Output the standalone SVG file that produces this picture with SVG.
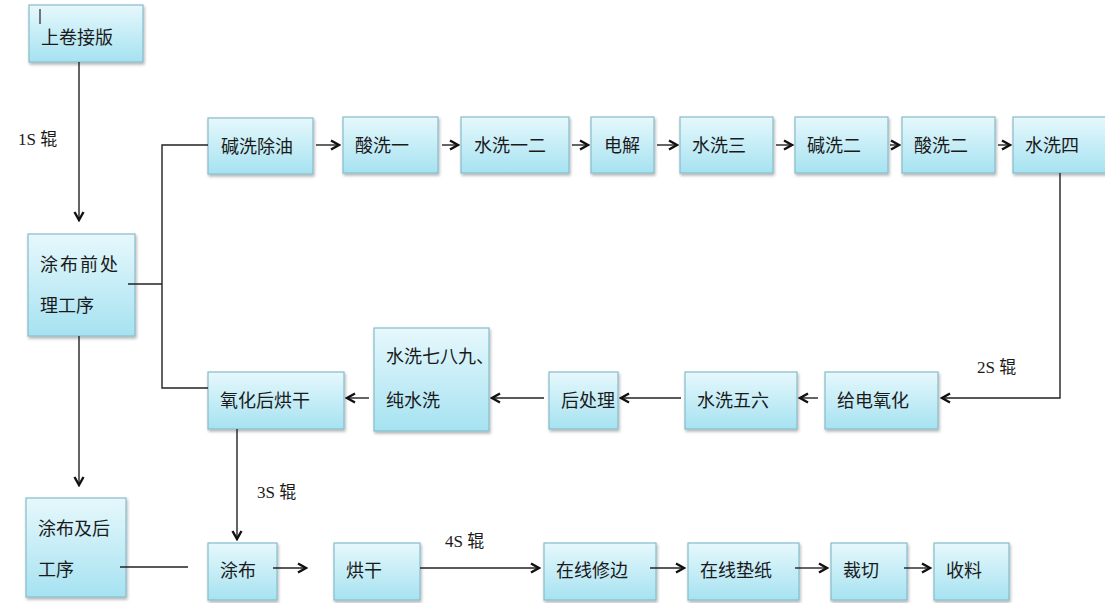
<svg xmlns="http://www.w3.org/2000/svg" width="1105" height="603" viewBox="0 0 1105 603">
<defs>
<linearGradient id="g" x1="0" y1="0" x2="0" y2="1">
<stop offset="0" stop-color="#e6f8fc"/>
<stop offset="1" stop-color="#a6e2f1"/>
</linearGradient>
<filter id="sh" x="-10%" y="-10%" width="130%" height="130%">
<feDropShadow dx="1" dy="2" stdDeviation="1.5" flood-color="#000" flood-opacity="0.3"/>
</filter>
<marker id="ar" viewBox="0 0 12 12" refX="10" refY="6" markerWidth="12" markerHeight="12" markerUnits="userSpaceOnUse" orient="auto">
<path d="M2,1.5 L10,6 L2,10.5" fill="none" stroke="#111" stroke-width="2.4"/>
</marker>
<style>
.b{fill:url(#g);stroke:#86bccb;stroke-width:1.2;filter:url(#sh)}
.t{font-family:"Noto Sans CJK SC","Liberation Sans",sans-serif;font-size:18px;fill:#1a1a1a}
.l{font-family:"Liberation Serif","Noto Sans CJK SC",serif;font-size:17px;fill:#1a1a1a}
.c{stroke:#222;stroke-width:1.4;fill:none}
.a{stroke:#222;stroke-width:1.4;fill:none;marker-end:url(#ar)}
</style>
</defs>
<rect width="1105" height="603" fill="#fff"/>
<g id="n1"><rect class="b" x="29" y="5" width="114" height="57"/><text class="t" x="41" y="44">上卷接版</text><line x1="40" y1="9" x2="40" y2="24" stroke="#222" stroke-width="1.2"/></g>
<g id="n2"><rect class="b" x="28" y="234" width="107" height="102"/><text class="t" x="40" y="271" letter-spacing="2">涂布前处</text><text class="t" x="40" y="312">理工序</text></g>
<g id="n3"><rect class="b" x="26" y="498" width="100" height="99"/><text class="t" x="38" y="535">涂布及后</text><text class="t" x="38" y="576">工序</text></g>
<g id="n4"><rect class="b" x="208" y="118" width="105" height="56"/><text class="t" x="221" y="153">碱洗除油</text></g>
<g id="n5"><rect class="b" x="343" y="117" width="95" height="56"/><text class="t" x="355" y="152">酸洗一</text></g>
<g id="n6"><rect class="b" x="461" y="117" width="108" height="56"/><text class="t" x="474" y="152">水洗一二</text></g>
<g id="n7"><rect class="b" x="591" y="117" width="63" height="56"/><text class="t" x="604" y="152">电解</text></g>
<g id="n8"><rect class="b" x="680" y="117" width="93" height="56"/><text class="t" x="692" y="152">水洗三</text></g>
<g id="n9"><rect class="b" x="795" y="117" width="93" height="56"/><text class="t" x="807" y="152">碱洗二</text></g>
<g id="n10"><rect class="b" x="902" y="117" width="93" height="56"/><text class="t" x="914" y="152">酸洗二</text></g>
<g id="n11"><rect class="b" x="1013" y="117" width="95" height="56"/><text class="t" x="1025" y="152">水洗四</text></g>
<g id="n12"><rect class="b" x="825" y="372" width="113" height="57"/><text class="t" x="837" y="407">给电氧化</text></g>
<g id="n13"><rect class="b" x="685" y="372" width="112" height="57"/><text class="t" x="697" y="407">水洗五六</text></g>
<g id="n14"><rect class="b" x="549" y="372" width="69" height="57"/><text class="t" x="561" y="407">后处理</text></g>
<g id="n15"><rect class="b" x="374" y="328" width="115" height="103"/><text class="t" x="386" y="363">水洗七八九、</text><text class="t" x="386" y="407">纯水洗</text></g>
<g id="n16"><rect class="b" x="208" y="372" width="136" height="57"/><text class="t" x="220" y="407">氧化后烘干</text></g>
<g id="n17"><rect class="b" x="208" y="543" width="69" height="57"/><text class="t" x="220" y="577">涂布</text></g>
<g id="n18"><rect class="b" x="334" y="543" width="86" height="57"/><text class="t" x="346" y="577">烘干</text></g>
<g id="n19"><rect class="b" x="544" y="543" width="112" height="57"/><text class="t" x="556" y="577">在线修边</text></g>
<g id="n20"><rect class="b" x="688" y="543" width="111" height="57"/><text class="t" x="700" y="577">在线垫纸</text></g>
<g id="n21"><rect class="b" x="831" y="543" width="76" height="57"/><text class="t" x="843" y="577">裁切</text></g>
<g id="n22"><rect class="b" x="934" y="543" width="75" height="57"/><text class="t" x="946" y="577">收料</text></g>
<g id="connectors">
<line class="a" x1="79" y1="62" x2="79" y2="220"/>
<line class="a" x1="79" y1="336" x2="79" y2="485"/>
<polyline class="c" points="128,284 162,284"/>
<polyline class="c" points="208,145 162,145 162,388 208,388"/>
<line class="a" x1="316" y1="145" x2="339" y2="145"/>
<line class="a" x1="442" y1="145" x2="458" y2="145"/>
<line class="a" x1="572" y1="145" x2="588" y2="145"/>
<line class="a" x1="657" y1="145" x2="677" y2="145"/>
<line class="a" x1="776" y1="145" x2="792" y2="145"/>
<line class="a" x1="890" y1="145" x2="899" y2="145"/>
<line class="a" x1="998" y1="145" x2="1010" y2="145"/>
<polyline class="a" points="1060,173 1060,398 942,398"/>
<line class="a" x1="818" y1="398" x2="800" y2="398"/>
<line class="a" x1="681" y1="398" x2="621" y2="398"/>
<line class="a" x1="544" y1="398" x2="492" y2="398"/>
<line class="a" x1="369" y1="398" x2="347" y2="398"/>
<line class="a" x1="237" y1="429" x2="237" y2="539"/>
<line class="c" x1="120" y1="567" x2="188" y2="567"/>
<line class="a" x1="273" y1="568" x2="306" y2="568"/>
<line class="a" x1="420" y1="568" x2="539" y2="568"/>
<line class="a" x1="650" y1="568" x2="684" y2="568"/>
<line class="a" x1="795" y1="568" x2="827" y2="568"/>
<line class="a" x1="904" y1="568" x2="930" y2="568"/>
</g>
<text class="l" x="18" y="145">1S 辊</text>
<text class="l" x="977" y="373">2S 辊</text>
<text class="l" x="257" y="498">3S 辊</text>
<text class="l" x="445" y="547">4S 辊</text>
</svg>
